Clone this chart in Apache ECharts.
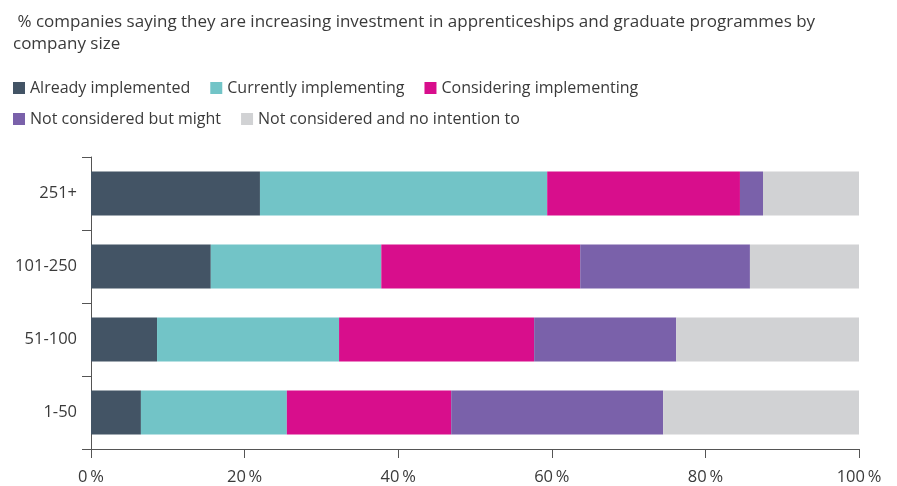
<!DOCTYPE html>
<html><head><meta charset="utf-8">
<script src="https://cdn.jsdelivr.net/npm/echarts@6/dist/echarts.min.js"></script>
<style>html,body{margin:0;padding:0;background:#fff}#c{width:897px;height:486px}</style>
</head><body><div id="c"></div>
<script>
const categories = ['1-50', '51-100', '101-250', '251+'];
const seriesNames = ['Already implemented', 'Currently implementing', 'Considering implementing', 'Not considered but might', 'Not considered and no intention to'];
const alreadyImplemented = [6.5, 8.6, 15.6, 22.0];
const currentlyImplementing = [19.0, 23.7, 22.2, 37.4];
const consideringImplementing = [21.4, 25.4, 25.9, 25.1];
const notConsideredButMight = [27.6, 18.5, 22.1, 3.0];
const notConsideredNoIntention = [25.5, 23.8, 14.2, 12.5];
const xTicks = [0, 20, 40, 60, 80, 100];
const colors = ['#435465', '#72c4c7', '#d80e8c', '#7a61aa', '#d1d2d4'];
const values = [alreadyImplemented, currentlyImplementing, consideringImplementing, notConsideredButMight, notConsideredNoIntention];
const font = 'Open Sans';
const textColor = '#3a3a3a';
const chart = echarts.init(document.getElementById('c'), null, {renderer: 'canvas'});
const legendBase = {itemWidth: 12, itemHeight: 12, itemGap: 20, icon: 'rect',
  textStyle: {fontFamily: font, fontSize: 16, color: textColor, padding: [0, 0, 0, 0]}};
chart.setOption({
  animation: false,
  color: colors,
  textStyle: {fontFamily: font},
  title: {
    text: ' % companies saying they are increasing investment in apprenticeships and graduate programmes by\ncompany size',
    left: 8, top: 6,
    textStyle: {fontFamily: font, fontSize: 17, fontWeight: 'normal', color: textColor, lineHeight: 22}
  },
  legend: [
    Object.assign({data: seriesNames.slice(0, 3), left: 8, top: 75}, legendBase),
    Object.assign({data: seriesNames.slice(3), left: 8, top: 106}, legendBase)
  ],
  grid: {left: 91, right: 38, top: 157, bottom: 37, containLabel: false},
  xAxis: {
    type: 'value', min: 0, max: 100, interval: 20,
    axisLine: {show: true, lineStyle: {color: '#555', width: 1}},
    axisTick: {show: true, length: 9, lineStyle: {color: '#555'}},
    splitLine: {show: false},
    axisLabel: {formatter: v => v + '\u2009%', fontFamily: font, fontSize: 16.5, color: textColor, margin: 20,
      customValues: xTicks}
  },
  yAxis: {
    type: 'category', data: categories,
    axisLine: {show: true, lineStyle: {color: '#555', width: 1}},
    axisTick: {show: true, length: 9, lineStyle: {color: '#555'}},
    axisLabel: {fontFamily: font, fontSize: 16.5, color: textColor, margin: 14}
  },
  series: seriesNames.map((n, i) => ({
    name: n, type: 'bar', stack: 'total', barWidth: '60%', data: values[i],
    itemStyle: {color: colors[i]}
  }))
});
</script></body></html>
